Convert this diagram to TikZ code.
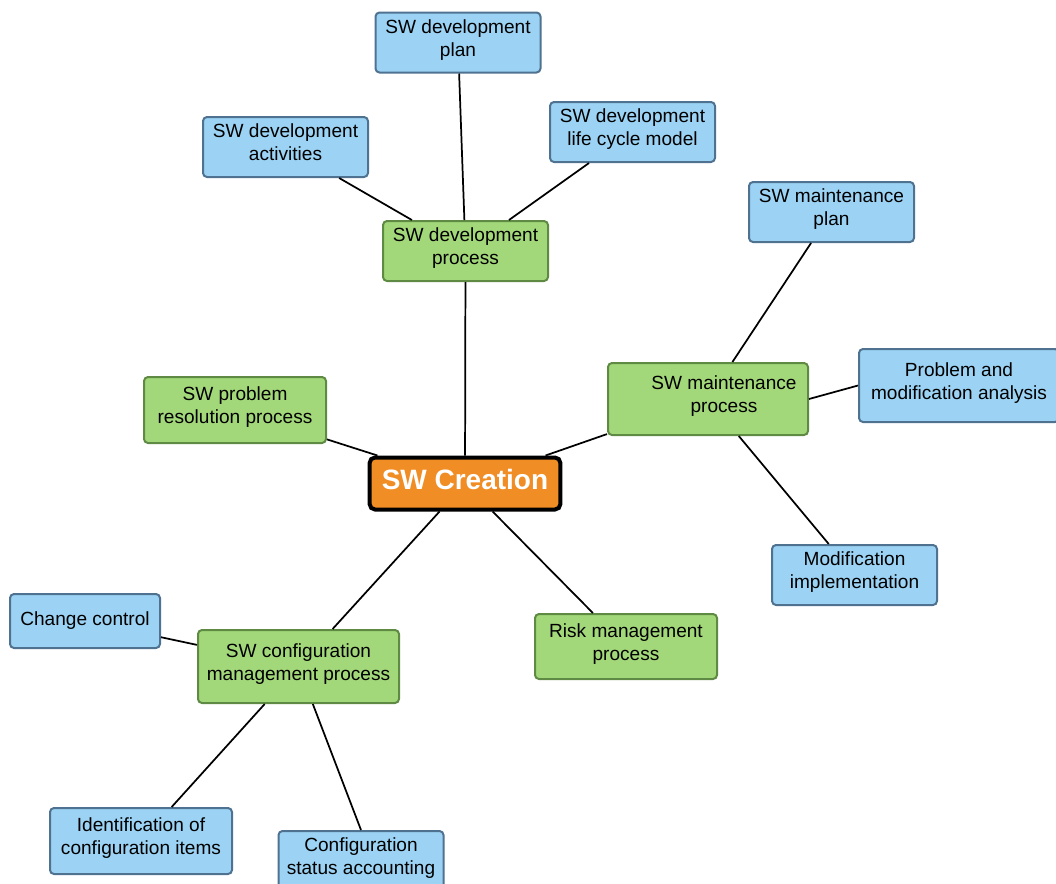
\documentclass[tikz,border=0pt]{standalone}
\usepackage{fontspec}
\setmainfont{Liberation Sans}
\usepackage{xcolor}
\usetikzlibrary{positioning}

\definecolor{leafblue}{HTML}{9CD3F4}
\definecolor{leafedge}{HTML}{4F7290}
\definecolor{procgreen}{HTML}{A3D87A}
\definecolor{procedge}{HTML}{5E8A44}
\definecolor{rootorange}{HTML}{F08D24}

\begin{document}
\begin{tikzpicture}[x=0.75pt,y=-0.75pt,
  box/.style={rounded corners=3pt,line width=1.5pt,align=center,inner sep=2pt,text depth=7pt,
    font=\fontsize{14.3}{17.25}\selectfont},
  leaf/.style={box,draw=leafedge,fill=leafblue,minimum width=123.75pt,minimum height=45pt},
  proc/.style={box,draw=procedge,fill=procgreen},
  root/.style={rounded corners=4pt,draw=black,line width=3pt,fill=rootorange,text=white,
    font=\fontsize{21}{24}\selectfont\bfseries,minimum width=143pt,minimum height=39pt},
  lnk/.style={line width=1.3pt}]
  \useasboundingbox (0,0) rectangle (1056,883);
  % centre and process nodes
  \node[root,text depth=6pt] (sw) at (465,483.5) {SW Creation};
  \node[proc,minimum width=123.75pt,minimum height=45pt] (devp) at (465.5,251) {SW development\\process};
  \node[proc,minimum width=150pt,minimum height=54pt] (mnt) at (708,399)
    {\hspace*{24pt}SW maintenance\\\hspace*{24pt}process};
  \node[proc,minimum width=136.5pt,minimum height=49.5pt] (prp) at (235,410) {SW problem\\resolution process};
  \node[proc,minimum width=150.75pt,minimum height=54.75pt] (cfg) at (298.5,666.5) {SW configuration\\management process};
  \node[proc,minimum width=136.5pt,minimum height=48.75pt] (risk) at (626,646.5) {Risk management\\process};
  % leaves
  \node[leaf] (plan) at (458,42.5) {SW development\\plan};
  \node[leaf] (act) at (285.5,147) {SW development\\activities};
  \node[leaf] (cyc) at (632.5,132) {SW development\\life cycle model};
  \node[leaf] (mplan) at (831.5,212) {SW maintenance\\plan};
  \node[leaf,minimum width=150pt,minimum height=54.75pt] (pma) at (959,385.5) {Problem and\\modification analysis};
  \node[leaf] (mimp) at (854.5,575) {Modification\\implementation};
  \node[leaf,text depth=3pt,minimum width=112.5pt,minimum height=40.5pt] (cc) at (85,621) {Change control};
  \node[leaf,minimum width=136.5pt,minimum height=49.5pt] (ident) at (141,841) {Identification of\\configuration items};
  \node[leaf] (stat) at (361,861) {Configuration\\status accounting};
  % connectors
  \draw[lnk] (plan) -- (devp);
  \draw[lnk] (act) -- (devp);
  \draw[lnk] (cyc) -- (devp);
  \draw[lnk] (devp) -- (sw);
  \draw[lnk] (prp) -- (sw);
  \draw[lnk] (mnt) -- (sw);
  \draw[lnk] (mplan) -- (mnt);
  \draw[lnk] (pma.west) -- (mnt.east);
  \draw[lnk] (mimp) -- (mnt);
  \draw[lnk] (sw) -- (cfg);
  \draw[lnk] (sw) -- (risk);
  \draw[lnk] (cc) -- (cfg);
  \draw[lnk] (cfg) -- (ident);
  \draw[lnk] (cfg) -- (stat.north);
\end{tikzpicture}
\end{document}
